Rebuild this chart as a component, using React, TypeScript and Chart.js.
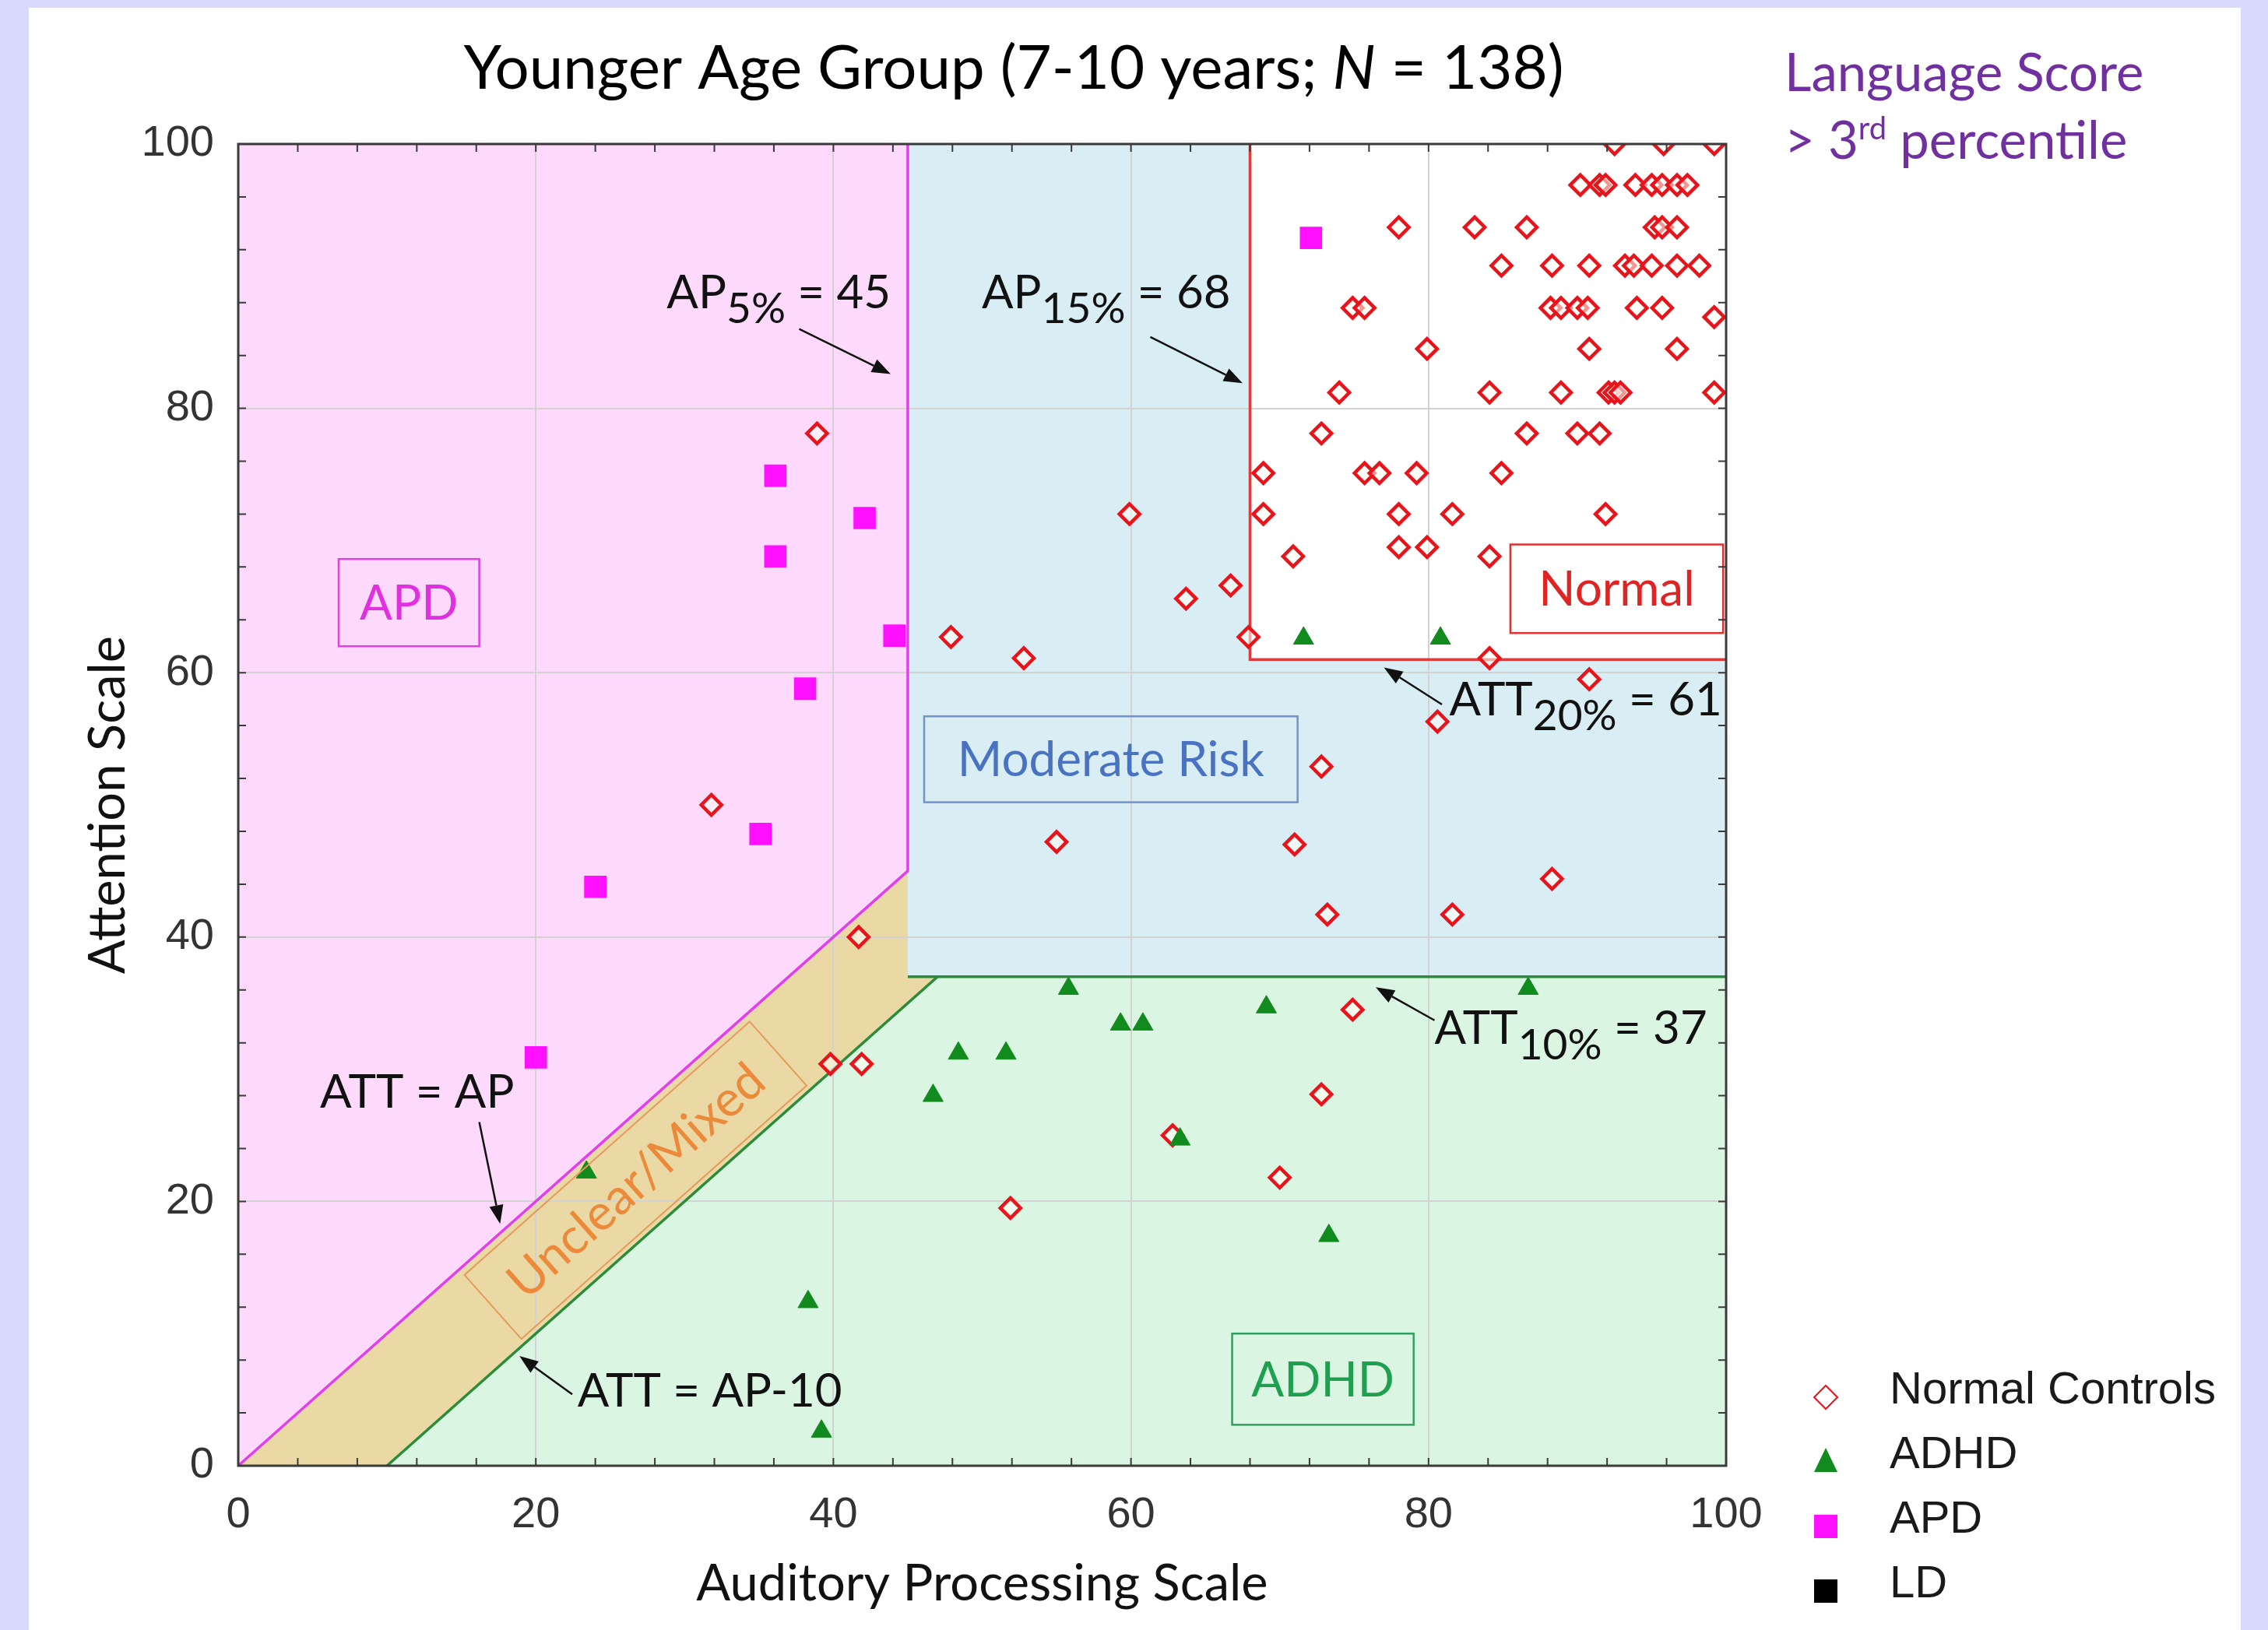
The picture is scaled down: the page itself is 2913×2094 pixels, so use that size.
import React, { useEffect, useRef } from 'react';
import { Chart, registerables } from 'chart.js';

Chart.register(...registerables);

// ---------------- data ----------------
const axisTicks = [0, 20, 40, 60, 80, 100];
const seriesLabels = ['Normal Controls', 'ADHD', 'APD', 'LD'];

// [Auditory Processing, Attention]
const normalControls: number[][] = [
  [92.5, 100], [95.8, 100], [99.2, 100],
  [90.2, 96.9], [91.5, 96.9], [91.9, 96.9], [93.9, 96.9], [95.0, 96.9], [95.7, 96.9], [96.7, 96.9], [97.4, 96.9],
  [78.0, 93.7], [83.1, 93.7], [86.6, 93.7], [95.2, 93.7], [95.7, 93.7], [96.7, 93.7],
  [84.9, 90.8], [88.3, 90.8], [90.8, 90.8], [93.2, 90.8], [93.8, 90.8], [95.0, 90.8], [96.7, 90.8], [98.2, 90.8],
  [74.9, 87.6], [75.7, 87.6], [88.2, 87.6], [88.9, 87.6], [90.0, 87.6], [90.7, 87.6], [94.0, 87.6], [95.7, 87.6], [99.2, 86.9],
  [79.9, 84.5], [90.8, 84.5], [96.7, 84.5],
  [74.0, 81.2], [84.1, 81.2], [88.9, 81.2], [92.1, 81.2], [92.5, 81.2], [92.9, 81.2], [99.2, 81.2],
  [38.9, 78.1], [72.8, 78.1], [86.6, 78.1], [90.0, 78.1], [91.5, 78.1],
  [68.9, 75.1], [75.7, 75.1], [76.7, 75.1], [79.2, 75.1], [84.9, 75.1],
  [59.9, 72.0], [68.9, 72.0], [78.0, 72.0], [81.6, 72.0], [91.9, 72.0],
  [78.0, 69.5], [79.9, 69.5],
  [70.9, 68.8], [84.1, 68.8],
  [66.7, 66.6], [63.7, 65.6],
  [47.9, 62.7], [67.9, 62.7],
  [52.8, 61.1], [84.1, 61.1],
  [90.8, 59.5],
  [80.6, 56.3],
  [72.8, 52.9],
  [31.8, 50.0],
  [55.0, 47.2], [71.0, 47.0],
  [88.3, 44.4],
  [73.2, 41.7], [81.6, 41.7],
  [41.7, 40.0],
  [74.9, 34.5],
  [39.8, 30.4], [41.9, 30.4],
  [72.8, 28.1],
  [62.8, 25.0],
  [70.0, 21.8],
  [51.9, 19.5],
];

const adhd: number[][] = [
  [71.6, 62.6], [80.8, 62.6], [86.7, 36.1], [55.8, 36.1], [69.1, 34.7],
  [59.3, 33.4], [60.8, 33.4], [48.4, 31.2], [51.6, 31.2], [46.7, 28.0],
  [63.3, 24.7], [23.4, 22.2], [73.3, 17.4], [38.3, 12.4], [39.2, 2.6],
];

const apd: number[][] = [
  [36.1, 74.9], [42.1, 71.7], [36.1, 68.8], [44.1, 62.8], [38.1, 58.8],
  [35.1, 47.8], [24.0, 43.8], [20.0, 30.9], [72.1, 92.9],
];

const ld: number[][] = [];

// cut-off values (data units)
const AP_5 = 45;
const AP_15 = 68;
const ATT_20 = 61;
const ATT_10 = 37;
const AP_GAP = 10;

// ---------------- styling ----------------
const CAL = 'Lato, "Open Sans", sans-serif';
const ARIAL = '"Liberation Sans", Arial, sans-serif';
const PINK = '#fdd9fb';
const BLUE = '#d8edf4';
const GREEN = '#dbf5e3';
const TAN = '#ebd9a5';

type Part = { t: string; sub?: boolean; sup?: boolean; italic?: boolean };

const annotationTexts: { parts: Part[]; x: number; y: number; arrow: number[] }[] = [
  { parts: [{ t: 'AP' }, { t: '5%', sub: true }, { t: ' = 45' }], x: 28.8, y: 87.6, arrow: [37.7, 86.0, 43.85, 82.6] },
  { parts: [{ t: 'AP' }, { t: '15%', sub: true }, { t: ' = 68' }], x: 49.97, y: 87.6, arrow: [61.3, 85.4, 67.5, 81.9] },
  { parts: [{ t: 'ATT' }, { t: '20%', sub: true }, { t: ' = 61' }], x: 81.4, y: 56.8, arrow: [80.9, 57.6, 77.0, 60.4] },
  { parts: [{ t: 'ATT' }, { t: '10%', sub: true }, { t: ' = 37' }], x: 80.4, y: 31.9, arrow: [80.4, 33.7, 76.45, 36.2] },
  { parts: [{ t: 'ATT = AP' }], x: 5.5, y: 27.1, arrow: [16.2, 26.0, 17.6, 18.3] },
  { parts: [{ t: 'ATT = AP-10' }], x: 22.8, y: 4.5, arrow: [22.45, 5.4, 18.9, 8.3] },
];

const regionLabels = [
  { text: 'APD', x0: 6.75, x1: 16.2, y0: 62.0, y1: 68.6, border: '#e040e0', color: '#e030e0' },
  { text: 'Moderate Risk', x0: 46.1, x1: 71.2, y0: 50.2, y1: 56.7, border: '#7393c9', color: '#4a72c2' },
  { text: 'Normal', x0: 85.5, x1: 99.8, y0: 63.0, y1: 69.7, border: '#e03030', color: '#e02424' },
  { text: 'ADHD', x0: 66.8, x1: 79.0, y0: 3.1, y1: 10.0, border: '#30a060', color: '#1fa050' },
];

function partFont(p: Part, size: number, family: string) {
  const s = p.sub ? size * 0.92 : p.sup ? size * 0.6 : size;
  return `${p.italic ? 'italic ' : ''}${Math.round(s)}px ${family}`;
}

function drawRich(ctx: CanvasRenderingContext2D, parts: Part[], x: number, y: number, size: number, family: string, color: string, align: 'left' | 'center' = 'left') {
  ctx.save();
  ctx.fillStyle = color;
  ctx.textBaseline = 'alphabetic';
  ctx.textAlign = 'left';
  let total = 0;
  const widths = parts.map((p) => {
    ctx.font = partFont(p, size, family);
    const w = ctx.measureText(p.t).width;
    total += w;
    return w;
  });
  let cx = align === 'center' ? x - total / 2 : x;
  parts.forEach((p, i) => {
    ctx.font = partFont(p, size, family);
    const dy = p.sub ? size * 0.33 : p.sup ? -size * 0.38 : 0;
    ctx.fillText(p.t, cx, y + dy);
    cx += widths[i];
  });
  ctx.restore();
}

function drawArrow(ctx: CanvasRenderingContext2D, x1: number, y1: number, x2: number, y2: number) {
  const ang = Math.atan2(y2 - y1, x2 - x1);
  const len = 24;
  const hw = 9;
  const bx = x2 - Math.cos(ang) * len;
  const by = y2 - Math.sin(ang) * len;
  ctx.save();
  ctx.strokeStyle = '#111';
  ctx.fillStyle = '#111';
  ctx.lineWidth = 2.5;
  ctx.beginPath();
  ctx.moveTo(x1, y1);
  ctx.lineTo(bx, by);
  ctx.stroke();
  ctx.beginPath();
  ctx.moveTo(x2, y2);
  ctx.lineTo(bx + Math.sin(ang) * hw, by - Math.cos(ang) * hw);
  ctx.lineTo(bx - Math.sin(ang) * hw, by + Math.cos(ang) * hw);
  ctx.closePath();
  ctx.fill();
  ctx.restore();
}

function drawMarker(ctx: CanvasRenderingContext2D, style: string, x: number, y: number, fill: string, stroke: string) {
  ctx.save();
  ctx.beginPath();
  if (style === 'rectRot') {
    const r = 15;
    ctx.moveTo(x, y - r); ctx.lineTo(x + r, y); ctx.lineTo(x, y + r); ctx.lineTo(x - r, y); ctx.closePath();
    ctx.fillStyle = '#fff'; ctx.fill();
    ctx.strokeStyle = stroke; ctx.lineWidth = 2; ctx.stroke();
  } else if (style === 'triangle') {
    ctx.moveTo(x, y - 18); ctx.lineTo(x + 15, y + 13); ctx.lineTo(x - 15, y + 13); ctx.closePath();
    ctx.fillStyle = fill; ctx.fill();
  } else {
    const h = 15;
    ctx.rect(x - h, y - h, 2 * h, 2 * h);
    ctx.fillStyle = fill; ctx.fill();
  }
  ctx.restore();
}

const zonePlugin = {
  id: 'zones',
  beforeDraw(chart: any) {
    const { ctx, scales: { x, y } } = chart;
    const X = (v: number) => x.getPixelForValue(v);
    const Y = (v: number) => y.getPixelForValue(v);
    const mx = x.max;
    const my = y.max;
    const mn = x.min;
    const poly = (pts: number[][], fill: string) => {
      ctx.beginPath();
      pts.forEach(([a, b], i) => (i ? ctx.lineTo(X(a), Y(b)) : ctx.moveTo(X(a), Y(b))));
      ctx.closePath();
      ctx.fillStyle = fill;
      ctx.fill();
    };
    const meet = ATT_10 + AP_GAP;
    ctx.save();
    poly([[mn, mn], [mn, my], [AP_5, my], [AP_5, AP_5]], PINK);
    poly([[mn, mn], [AP_5, AP_5], [AP_5, ATT_10], [meet, ATT_10], [AP_GAP, mn]], TAN);
    poly([[AP_5, ATT_10], [AP_5, my], [AP_15, my], [AP_15, ATT_20], [mx, ATT_20], [mx, ATT_10]], BLUE);
    poly([[AP_15, ATT_20], [AP_15, my], [mx, my], [mx, ATT_20]], '#ffffff');
    poly([[AP_GAP, mn], [meet, ATT_10], [mx, ATT_10], [mx, mn]], GREEN);
    ctx.restore();
  },
  beforeDatasetsDraw(chart: any) {
    const { ctx, scales: { x, y } } = chart;
    const X = (v: number) => x.getPixelForValue(v);
    const Y = (v: number) => y.getPixelForValue(v);
    const my = y.max;
    const mx = x.max;
    const line = (pts: number[][], color: string) => {
      ctx.beginPath();
      pts.forEach(([a, b], i) => (i ? ctx.lineTo(X(a), Y(b)) : ctx.moveTo(X(a), Y(b))));
      ctx.strokeStyle = color;
      ctx.lineWidth = 3.5;
      ctx.lineJoin = 'miter';
      ctx.stroke();
    };
    ctx.save();
    line([[AP_GAP, 0], [ATT_10 + AP_GAP, ATT_10], [mx, ATT_10]], '#2a8c3a');
    line([[AP_5, ATT_10], [ATT_10 + AP_GAP, ATT_10]], '#2a8c3a');
    line([[0, 0], [AP_5, AP_5], [AP_5, my]], '#e040e8');
    line([[AP_15, my], [AP_15, ATT_20], [mx, ATT_20]], '#e23a3a');
    ctx.restore();
  },
  afterDatasetsDraw(chart: any) {
    const { ctx, chartArea: a, scales: { x, y } } = chart;
    const X = (v: number) => x.getPixelForValue(v);
    const Y = (v: number) => y.getPixelForValue(v);
    ctx.save();
    // region labels
    regionLabels.forEach((r) => {
      const l = X(r.x0), rr = X(r.x1), t = Y(r.y1), b = Y(r.y0);
      ctx.strokeStyle = r.border;
      ctx.lineWidth = 2.5;
      ctx.strokeRect(l, t, rr - l, b - t);
      ctx.fillStyle = r.color;
      ctx.font = `62px ${CAL}`;
      ctx.textAlign = 'center';
      ctx.textBaseline = 'middle';
      ctx.fillText(r.text, (l + rr) / 2, (t + b) / 2 + 2);
    });
    // Unclear / Mixed (rotated along the diagonal)
    const ang = Math.atan2(Y(100) - Y(0), X(100) - X(0));
    ctx.save();
    ctx.translate(X(26.7), Y(21.6));
    ctx.rotate(ang);
    ctx.strokeStyle = '#e59a5a';
    ctx.lineWidth = 2;
    ctx.strokeRect(-245, -55, 490, 110);
    ctx.fillStyle = '#ec8a3c';
    ctx.font = `64px ${CAL}`;
    ctx.textAlign = 'center';
    ctx.textBaseline = 'middle';
    ctx.fillText('Unclear/Mixed', 0, 2);
    ctx.restore();
    // annotations
    annotationTexts.forEach((an) => {
      drawRich(ctx, an.parts, X(an.x), Y(an.y), 60, CAL, '#111');
      const [ax1, ay1, ax2, ay2] = an.arrow;
      drawArrow(ctx, X(ax1), Y(ay1), X(ax2), Y(ay2));
    });
    // minor ticks
    ctx.strokeStyle = '#3a3a3a';
    ctx.lineWidth = 2;
    const L = 10;
    for (let v = x.min; v <= x.max + 1e-9; v += 4) {
      const px = X(v);
      ctx.beginPath();
      ctx.moveTo(px, a.top); ctx.lineTo(px, a.top + L);
      ctx.moveTo(px, a.bottom); ctx.lineTo(px, a.bottom - L);
      ctx.stroke();
    }
    for (let v = y.min; v <= y.max + 1e-9; v += 4) {
      const py = Y(v);
      ctx.beginPath();
      ctx.moveTo(a.left, py); ctx.lineTo(a.left + L, py);
      ctx.moveTo(a.right, py); ctx.lineTo(a.right - L, py);
      ctx.stroke();
    }
    // frame
    ctx.strokeStyle = '#3a3a3a';
    ctx.lineWidth = 3;
    ctx.strokeRect(a.left, a.top, a.right - a.left, a.bottom - a.top);
    ctx.restore();
  },
  afterDraw(chart: any) {
    const { ctx } = chart;
    ctx.save();
    drawRich(ctx, [{ t: 'Younger Age Group (7-10 years; ' }, { t: 'N', italic: true }, { t: ' = 138)' }], 1302, 114, 78, CAL, '#000', 'center');
    drawRich(ctx, [{ t: 'Language Score' }], 2292, 117, 67, CAL, '#7030a0');
    drawRich(ctx, [{ t: '> 3' }, { t: 'rd', sup: true }, { t: ' percentile' }], 2292, 204, 67, CAL, '#7030a0');
    // legend
    chart.data.datasets.forEach((ds: any, i: number) => {
      const base = 1803 + i * 83;
      drawMarker(ctx, ds.pointStyle, 2345, base - 8, ds.pointBackgroundColor, ds.pointBorderColor);
      ctx.fillStyle = '#1a1a1a';
      ctx.font = `58px ${ARIAL}`;
      ctx.textAlign = 'left';
      ctx.textBaseline = 'alphabetic';
      ctx.fillText(ds.label, 2427, base);
    });
    ctx.restore();
  },
};

const toPts = (arr: number[][]) => arr.map(([px, py]) => ({ x: px, y: py }));

export default function App() {
  const ref = useRef<HTMLCanvasElement | null>(null);
  useEffect(() => {
    if (!ref.current) return;
    const chart = new Chart(ref.current, {
      type: 'scatter',
      data: {
        datasets: [
          {
            label: seriesLabels[0], data: toPts(normalControls), pointStyle: 'rectRot', pointRadius: 13, pointHoverRadius: 13,
            pointBorderColor: '#e8141c', pointBackgroundColor: 'rgba(255,255,245,0.55)', pointBorderWidth: 4.5, order: 4, clip: 0,
          },
          {
            label: seriesLabels[1], data: toPts(adhd), pointStyle: 'triangle', pointRadius: 15, pointHoverRadius: 15,
            pointBorderColor: '#118a1e', pointBackgroundColor: '#118a1e', pointBorderWidth: 1, order: 3, clip: 0,
          },
          {
            label: seriesLabels[2], data: toPts(apd), pointStyle: 'rect', pointRadius: 18.5, pointHoverRadius: 18.5,
            pointBorderColor: '#ff10ff', pointBackgroundColor: '#ff10ff', pointBorderWidth: 2.5, order: 2, clip: 0,
          },
          {
            label: seriesLabels[3], data: toPts(ld), pointStyle: 'rect', pointRadius: 18, pointHoverRadius: 18,
            pointBorderColor: '#000000', pointBackgroundColor: '#000000', pointBorderWidth: 1, order: 1, clip: 0,
          },
        ] as any,
      },
      options: {
        animation: false,
        responsive: false,
        devicePixelRatio: 1,
        events: [],
        layout: { padding: { left: 60, right: 696, top: 185, bottom: 0 } },
        plugins: { legend: { display: false }, title: { display: false }, tooltip: { enabled: false } },
        elements: { point: { borderJoinStyle: 'round' } },
        scales: {
          x: {
            type: 'linear', min: axisTicks[0], max: axisTicks[axisTicks.length - 1],
            afterBuildTicks: (s: any) => { s.ticks = axisTicks.map((v) => ({ value: v })); },
            afterFit: (s: any) => { s.height = 211; },
            grid: { color: '#d2d2d2', lineWidth: 2, drawTicks: false },
            border: { display: false },
            ticks: { color: '#333', font: { family: ARIAL, size: 56 }, padding: 30 },
            title: { display: true, text: 'Auditory Processing Scale', color: '#111', font: { family: CAL, size: 65 }, padding: { top: 0, bottom: 20 } },
          },
          y: {
            type: 'linear', min: axisTicks[0], max: axisTicks[axisTicks.length - 1],
            afterBuildTicks: (s: any) => { s.ticks = axisTicks.map((v) => ({ value: v })); },
            afterFit: (s: any) => { s.width = 246; },
            grid: { color: '#d2d2d2', lineWidth: 2, drawTicks: false },
            border: { display: false },
            ticks: { color: '#333', font: { family: ARIAL, size: 56 }, padding: 31 },
            title: { display: true, text: 'Attention Scale', color: '#111', font: { family: CAL, size: 65 }, padding: { top: 40, bottom: 0 } },
          },
        },
      } as any,
      plugins: [zonePlugin],
    });
    return () => chart.destroy();
  }, []);

  return (
    <div style={{ position: 'fixed', left: 0, top: 0, width: 2913, height: 2094, background: '#d9d9fb', overflow: 'hidden' }}>
      <div style={{ position: 'absolute', left: 37, top: 10, width: 2841, height: 2084, background: '#ffffff' }} />
      <canvas ref={ref} width={2913} height={2094} style={{ position: 'absolute', left: 0, top: 0, width: 2913, height: 2094 }} />
    </div>
  );
}
